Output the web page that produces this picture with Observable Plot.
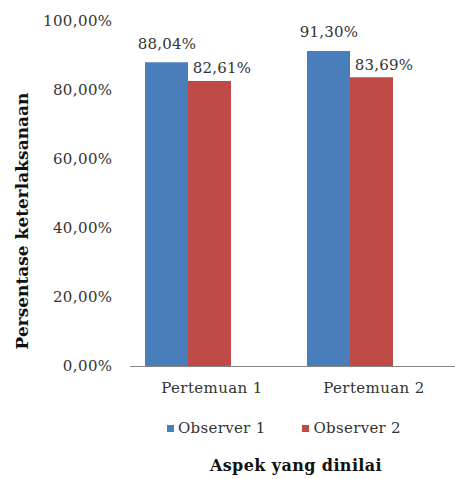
<!DOCTYPE html>
<html>
<head>
<meta charset="utf-8">
<script src="https://cdn.jsdelivr.net/npm/d3@7"></script>
<script src="https://cdn.jsdelivr.net/npm/@observablehq/plot@0.6"></script>
<style>
  body { margin: 0; background: #fff; }
  #wrap { position: relative; width: 455px; height: 479px; font-family: "DejaVu Serif", serif; background: #fff; overflow: hidden; }
  #chart { position: absolute; left: 0; top: 0; }
  #chart svg text { letter-spacing: 0.4px; }
  #chart svg g.vals text { letter-spacing: 0.2px; }
  .ylab { position: absolute; left: 22px; top: 221px; transform: translate(-50%, -50%) rotate(-90deg);
          white-space: nowrap; font-weight: bold; font-size: 17px; letter-spacing: 0px; color: #111; }
  .xlab { position: absolute; left: 296px; top: 465px; transform: translate(-50%, -50%);
          white-space: nowrap; font-weight: bold; font-size: 16px; letter-spacing: 0.4px; color: #111; }
  .legend { position: absolute; left: 167px; top: 428px; transform: translateY(-50%);
            display: flex; align-items: center; font-size: 15px; letter-spacing: 0.3px; color: #333; white-space: nowrap; }
  .legend .item { display: flex; align-items: center; margin-right: 37px; }
  .legend .sw { width: 7px; height: 7px; margin-right: 4px; display: inline-block; }
</style>
</head>
<body>
<div id="wrap">
  <div id="chart"></div>
  <div class="ylab" id="ylab"></div>
  <div class="legend" id="legend"></div>
  <div class="xlab" id="xlab"></div>
</div>
<script>
// ---- data ----
const categories = ["Pertemuan 1", "Pertemuan 2"];
const series = ["Observer 1", "Observer 2"];
const observer1 = [88.04, 91.30];
const observer2 = [82.61, 83.69];
const yTicks = [0, 20, 40, 60, 80, 100];
const colors = ["#4A7EBB", "#BE4B48"];
const yTitle = "Persentase keterlaksanaan";
const xTitle = "Aspek yang dinilai";

const fmt = v => v.toFixed(2).replace(".", ",") + "%";

const rows1 = categories.map((c, i) => ({category: c, series: series[0], value: observer1[i]}));
const rows2 = categories.map((c, i) => ({category: c, series: series[1], value: observer2[i]}));

const chart = Plot.plot({
  width: 455,
  height: 479,
  marginLeft: 130,
  marginRight: 0,
  marginTop: 21,
  marginBottom: 113,
  x: {domain: categories, paddingInner: 0.735, paddingOuter: 0.3675},
  y: {domain: [0, 100]},
  color: {domain: series, range: colors},
  style: {fontFamily: "'DejaVu Serif', serif", fontSize: "15px", color: "#333", background: "white", overflow: "visible"},
  marks: [
    Plot.barY(rows1, {x: "category", y: "value", fill: "series", dx: -45}),
    Plot.barY(rows2, {x: "category", y: "value", fill: "series", dx: -2}),
    Plot.text(rows1, {x: "category", y: "value", text: d => fmt(d.value), dx: -45, dy: -19, fill: "#333", className: "vals"}),
    Plot.text(rows2, {x: "category", y: "value", text: d => fmt(d.value), dx: 10, dy: -13, fill: "#333", className: "vals"}),
    Plot.ruleY([0], {stroke: "#868686", strokeWidth: 1.2}),
    Plot.axisY({ticks: yTicks, tickFormat: fmt, tickSize: 0, tickPadding: 18, label: null}),
    Plot.axisX({tickSize: 0, tickPadding: 16, label: null})
  ]
});
document.getElementById("chart").appendChild(chart);

document.getElementById("ylab").textContent = yTitle;
document.getElementById("xlab").textContent = xTitle;
const legend = document.getElementById("legend");
series.forEach((s, i) => {
  const item = document.createElement("span");
  item.className = "item";
  const sw = document.createElement("span");
  sw.className = "sw";
  sw.style.background = colors[i];
  item.appendChild(sw);
  item.appendChild(document.createTextNode(s));
  legend.appendChild(item);
});
</script>
</body>
</html>
